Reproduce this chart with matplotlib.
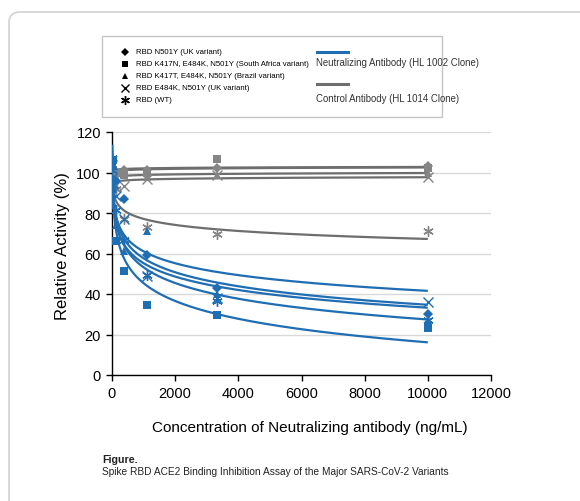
import numpy as np
import matplotlib
matplotlib.use("Agg")
import matplotlib.pyplot as plt
from matplotlib.lines import Line2D
from matplotlib.patches import Rectangle, FancyBboxPatch

plt.rcParams['font.family'] = ['Liberation Sans', 'DejaVu Sans']

# Antibody concentrations (ng/mL), 3-fold serial dilution
conc = [4.57, 13.7, 41.2, 123.5, 370.4, 1111.1, 3333.3, 10000.0]

# Relative activity (%) with the neutralizing antibody (HL 1002 clone)
neut_n501y = [90.2, 91.4, 96.1, 95.8, 87.0, 59.5, 43.0, 30.0]
neut_sa = [103.9, 104.8, 106.0, 66.0, 51.4, 34.6, 29.6, 23.0]
neut_br = [105.1, 96.2, 84.7, 74.2, 61.4, 71.0, 40.0, 27.0]
neut_e484k = [103.9, 97.5, 94.5, 88.5, 76.9, 49.0, 38.0, 36.0]
neut_wt = [107.2, 101.2, 93.9, 81.6, 66.8, 49.4, 36.5, 27.0]

# Relative activity (%) with the control antibody (HL 1014 clone)
ctrl_n501y = [99.0, 100.0, 101.0, 100.0, 101.0, 101.0, 102.0, 103.0]
ctrl_sa = [98.0, 105.8, 101.0, 100.0, 99.0, 100.0, 106.7, 102.0]
ctrl_br = [96.0, 97.0, 98.0, 98.0, 99.0, 98.0, 99.0, 100.0]
ctrl_e484k = [94.0, 96.0, 95.0, 94.0, 93.5, 97.0, 99.0, 97.6]
ctrl_wt = [97.2, 97.1, 93.3, 91.7, 77.0, 73.0, 69.5, 71.0]

variant_labels = [
    "RBD N501Y (UK variant)",
    "RBD K417N, E484K, N501Y (South Africa variant)",
    "RBD K417T, E484K, N501Y (Brazil variant)",
    "RBD E484K, N501Y (UK variant)",
    "RBD (WT)",
]
antibody_labels = ["Neutralizing Antibody (HL 1002 Clone)",
                   "Control Antibody (HL 1014 Clone)"]

x_ticks = [0, 2000, 4000, 6000, 8000, 10000, 12000]
y_ticks = [0, 20, 40, 60, 80, 100, 120]

BLUE = "#1F6DB3"
GRAY_LINE = "#6E6E6E"
GRAY_MARK = "#858585"

ASTERISK = (6, 2, 0)
marker_styles = [
    dict(marker="D", ms=5.0, mew=0),
    dict(marker="s", ms=5.2, mew=0),
    dict(marker="^", ms=5.5, mew=0),
    dict(marker="x", ms=6.5, mew=1.0),
    dict(marker=ASTERISK, ms=7.5, mew=1.0),
]

W, H = 580, 502
fig = plt.figure(figsize=(W / 100, H / 100), dpi=100)
fig.patch.set_facecolor("white")


def fx(px):
    return px / W


def fy(py):
    return 1 - py / H


# outer panel frame
frame = FancyBboxPatch((fx(9), fy(560)), fx(640), fy(13) - fy(560),
                       boxstyle="round,pad=0,rounding_size=0.02",
                       transform=fig.transFigure, facecolor="none",
                       edgecolor="#d2d2d2", linewidth=1.2, zorder=0)
fig.add_artist(frame)

ax = fig.add_axes([fx(112), fy(376), fx(491) - fx(112), fy(133) - fy(376)])
ax.set_facecolor("none")

x = np.array(conc)
xs = np.geomspace(x.min(), x.max(), 400)


def draw_series(values, style, color, line_color):
    y = np.array(values)
    slope, intercept = np.polyfit(np.log(x), y, 1)
    ax.plot(xs, slope * np.log(xs) + intercept, color=line_color, lw=1.6,
            zorder=3, solid_capstyle="butt")
    ax.plot(x, y, linestyle="none", color=color, mec=color, zorder=4, **style)


for vals, st in zip([ctrl_n501y, ctrl_sa, ctrl_br, ctrl_e484k, ctrl_wt],
                    marker_styles):
    draw_series(vals, st, GRAY_MARK, GRAY_LINE)
for vals, st in zip([neut_n501y, neut_sa, neut_br, neut_e484k, neut_wt],
                    marker_styles):
    draw_series(vals, st, BLUE, BLUE)

ax.set_xlim(0, 12000)
ax.set_ylim(0, 120)
ax.set_xticks(x_ticks)
ax.set_yticks(y_ticks)
ax.set_xticklabels([str(t) for t in x_ticks], fontsize=10.5)
ax.set_yticklabels([str(t) for t in y_ticks], fontsize=10.5)
ax.tick_params(axis="both", direction="out", length=4, width=1, color="black",
               pad=4)
ax.yaxis.grid(True, color="#d9d9d9", lw=1)
ax.set_axisbelow(True)
for side in ("top", "right"):
    ax.spines[side].set_visible(False)
for side in ("left", "bottom"):
    ax.spines[side].set_color("black")
    ax.spines[side].set_linewidth(1)

fig.text(fx(62), fy(246), "Relative Activity (%)", rotation=90,
         ha="center", va="center", fontsize=12)
fig.text(fx(310), fy(428), "Concentration of Neutralizing antibody (ng/mL)",
         ha="center", va="center", fontsize=11)

# legend box
fig.add_artist(Rectangle((fx(102), fy(118)), fx(442) - fx(102),
                         fy(37) - fy(118), transform=fig.transFigure,
                         facecolor="white", edgecolor="#c4c4c4", lw=1,
                         zorder=5))
row_y = [53, 65, 77, 89, 101]
legend_sizes = [0.8, 0.8, 0.8, 0.85, 0.85]
for label, st, ry, k in zip(variant_labels, marker_styles, row_y,
                            legend_sizes):
    st2 = dict(st)
    st2["ms"] = st["ms"] * k
    fig.add_artist(Line2D([fx(125)], [fy(ry)], transform=fig.transFigure,
                          linestyle="none", color="black", mec="black",
                          zorder=6, **st2))
    fig.text(fx(136), fy(ry), label, ha="left", va="center", fontsize=5.6,
             zorder=6)

for label, col, ly, ty in zip(antibody_labels, [BLUE, GRAY_LINE],
                              [52.7, 85.0], [63.0, 98.5]):
    fig.add_artist(Line2D([fx(317), fx(348)], [fy(ly), fy(ly)],
                          transform=fig.transFigure, color=col, lw=2.2,
                          zorder=6))
    fig.text(fx(316), fy(ty), label, ha="left", va="center", fontsize=6.9,
             color="#333333", zorder=6)

fig.text(fx(102), fy(460), "Figure.", ha="left", va="center", fontsize=7.7,
         fontweight="bold", color="#222222")
fig.text(fx(102), fy(472), "Spike RBD ACE2 Binding Inhibition Assay of the "
         "Major SARS-CoV-2 Variants", ha="left", va="center", fontsize=7.3,
         color="#222222")

fig.savefig("out.png", dpi=100, facecolor="white")
